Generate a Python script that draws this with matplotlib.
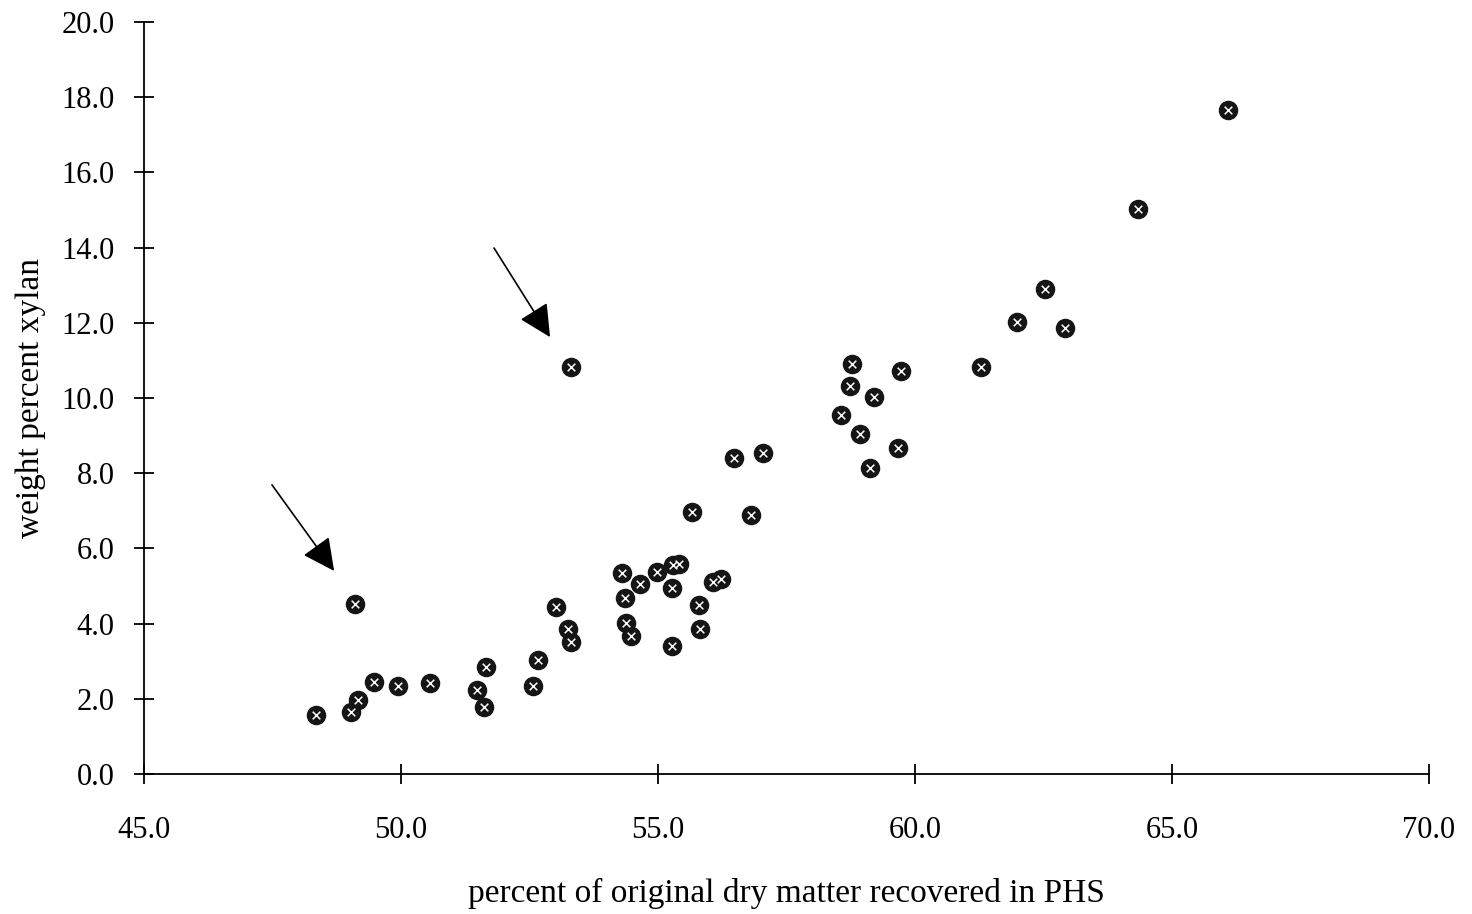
import matplotlib

matplotlib.use("Agg")
import matplotlib.pyplot as plt
import numpy as np

# percent of original dry matter recovered in PHS vs weight percent xylan
dry_matter = [
    48.35, 49.10, 49.03, 49.16, 49.47, 49.94, 50.56, 51.48, 51.65, 51.61,
    52.57, 52.67, 53.02, 53.25, 53.31, 53.31, 54.30, 54.36, 54.38, 54.47,
    54.65, 54.98, 55.27, 55.29, 55.41, 55.27, 55.66, 55.80, 55.82, 56.07,
    56.23, 56.48, 56.81, 57.04, 58.56, 58.74, 58.77, 58.93, 59.12, 59.20,
    59.67, 59.73, 61.28, 61.98, 62.53, 62.92, 64.34, 66.09,
]
xylan = [
    1.57, 4.52, 1.65, 1.97, 2.45, 2.34, 2.42, 2.23, 2.85, 1.78,
    2.34, 3.03, 4.44, 3.86, 3.51, 10.82, 5.35, 4.68, 4.02, 3.67,
    5.05, 5.37, 4.95, 5.56, 5.59, 3.40, 6.97, 4.49, 3.86, 5.11,
    5.19, 8.40, 6.89, 8.54, 9.55, 10.32, 10.90, 9.04, 8.14, 10.03,
    8.67, 10.72, 10.82, 12.02, 12.90, 11.86, 15.03, 17.66,
]

# arrows pointing at the two outliers: (tail, tip)
arrows = [
    ((47.49, 7.69), (48.70, 5.40)),
    ((51.81, 13.99), (52.90, 11.62)),
]

x_ticks = [45.0, 50.0, 55.0, 60.0, 65.0, 70.0]
y_ticks = [0.0, 2.0, 4.0, 6.0, 8.0, 10.0, 12.0, 14.0, 16.0, 18.0, 20.0]

plt.rcParams["font.family"] = ["Liberation Serif", "DejaVu Serif"]

fig = plt.figure(figsize=(14.72, 9.14), dpi=100)
ax = fig.add_axes([0.0978, 0.1532, 0.873, 0.8227])

ax.scatter(dry_matter, xylan, s=170, marker="o", color="#151515", zorder=3)
ax.scatter(dry_matter, xylan, s=30, marker="x", color="white", linewidths=1.1, zorder=4)

for tail, tip in arrows:
    ax.annotate("", xy=tip, xytext=tail,
                arrowprops=dict(arrowstyle="-|>", mutation_scale=50, lw=1.2,
                                color="black", shrinkA=0, shrinkB=0))

ax.set_xlim(45, 70)
ax.set_ylim(0, 20)
ax.set_xticks(x_ticks)
ax.set_yticks(y_ticks)
ax.set_xticklabels([f"{v:.1f}" for v in x_ticks])
ax.set_yticklabels([f"{v:.1f}" for v in y_ticks])

for side in ("top", "right"):
    ax.spines[side].set_visible(False)
for side in ("left", "bottom"):
    ax.spines[side].set_linewidth(1.3)

ax.tick_params(axis="both", direction="inout", length=14, width=1.3,
               labelsize=22, color="black")
ax.tick_params(axis="x", pad=23)
ax.tick_params(axis="y", pad=14)

ax.set_xlabel("percent of original dry matter recovered in PHS", fontsize=24, labelpad=24)
ax.set_ylabel("weight percent xylan", fontsize=24, labelpad=11)

fig.savefig("out.png", dpi=100)
